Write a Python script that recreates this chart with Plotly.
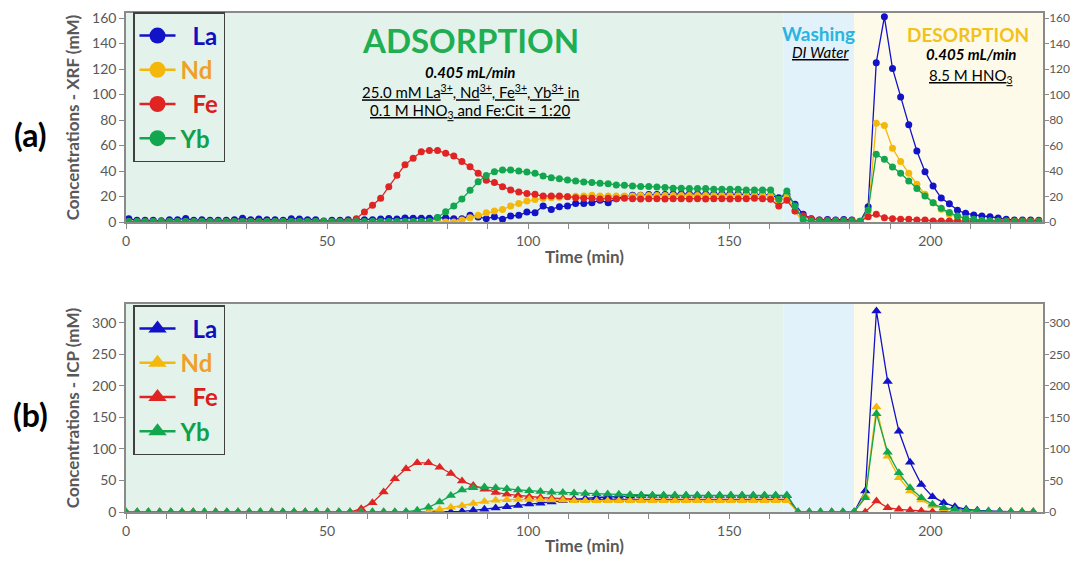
import plotly.graph_objects as go

# ---------------- data ----------------
SERIES = ["La", "Nd", "Fe", "Yb"]

# XRF sampling times (min) – regular ~2.02 min fractions
T_XRF = [round(0.7 + 2.02 * i, 2) for i in range(113)]

LA_XRF = [2.6, 1.3, 1.3, 1.3, 1.0, 1.8, 1.8, 2.8, 1.3, 1.8,
          1.3, 1.3, 1.3, 1.8, 2.9, 1.8, 2.3, 1.8, 1.8, 1.3,
          2.6, 2.3, 1.8, 1.8, 0.8, 1.3, 1.3, 1.8, 1.8, 1.8,
          1.8, 2.3, 2.8, 2.3, 3.2, 2.9, 3.0, 3.0, 3.4, 3.4,
          2.6, 2.5, 5.2, 3.9, 2.6, 4.2, 2.1, 4.7, 5.2, 7.8,
          7.3, 12.5, 9.9, 12.0, 12.5, 14.6, 14.6, 15.2, 17.0, 15.2,
          18.3, 20.0, 21.0, 21.0, 21.5, 21.5, 21.5, 22.0, 22.0, 22.0,
          22.0, 22.0, 22.0, 22.0, 22.0, 22.0, 22.0, 21.5, 21.5, 21.0,
          19.0, 21.5, 14.0, 6.0, 2.5, 1.6, 2.0, 1.6, 2.0, 1.6,
          0.3, 12.0, 125.0, 161.0, 120.5, 98.0, 76.4, 55.7, 39.5, 28.2,
          18.8, 14.4, 9.2, 6.8, 5.5, 4.7, 4.2, 3.1, 2.1, 1.6,
          1.6, 1.6, 1.3]

ND_XRF = [0.0] * 41 + [
          1.5, 3.4, 5.2, 7.3, 8.6, 9.9, 12.5, 14.6, 16.4,
          17.7, 18.6, 19.1, 19.5, 20.0, 20.2, 20.5, 21.0, 20.5, 20.5,
          20.5, 20.5, 20.5, 20.8, 20.8, 20.8, 20.8, 20.8, 20.8, 20.8,
          20.8, 20.8, 20.8, 20.8, 20.8, 20.8, 20.8, 20.8, 20.8, 20.5,
          16.0, 20.0, 8.6, 0.0, 0.0, 0.0, 0.0, 0.0, 0.0, 0.0,
          0.0, 6.0, 77.4, 75.8, 57.8, 47.4, 38.2, 29.6, 21.7, 15.2,
          10.0, 6.0, 4.0, 2.5, 1.6, 0.5, 0.5, 0.5, 0.5, 0.5,
          0.5, 0.5, 0.5]

FE_XRF = [0.3] * 27 + [0.8,
          2.6, 7.8, 13.1, 18.6, 27.7, 36.6, 45.0, 50.0, 55.2, 56.2,
          56.2, 53.9, 51.8, 47.4, 43.4, 38.2, 32.7, 30.9, 27.7, 25.1,
          23.5, 22.3, 21.7, 20.4, 20.4, 20.4, 19.9, 19.1, 18.6, 18.6,
          18.0, 18.6, 18.3, 18.6, 18.3, 18.0, 18.3, 18.3, 18.0, 18.3,
          18.3, 18.0, 18.3, 18.0, 18.3, 18.3, 18.0, 18.3, 18.3, 18.6,
          18.3, 17.8,
          12.5, 17.0, 8.6, 5.0, 2.6, 1.6, 1.3, 1.3, 1.3, 1.3,
          0.5, 4.2, 6.0, 3.4, 2.6, 2.1, 2.1, 1.6, 1.6, 0.8,
          0.8, 0.8, 0.8, 0.8, 0.8, 0.8, 0.8, 0.8, 0.8, 0.8,
          0.8, 0.8, 0.8]

YB_XRF = [0.3] * 37 + [0.5,
          3.5, 8.0, 12.5, 18.0, 25.0, 31.5, 36.5, 39.5, 40.8, 40.8,
          40.0, 39.2, 38.2, 36.1, 34.8, 34.0, 33.0, 32.2, 31.4,
          30.9, 30.4, 30.1, 29.1, 28.8, 28.3, 27.8, 27.8, 27.5, 27.0,
          26.5, 26.5, 26.2, 26.2, 26.2, 25.7, 25.7, 25.7, 25.7, 25.2,
          25.2, 25.2, 25.1,
          17.8, 24.3, 12.5, 2.1, 0.5, 0.5, 0.5, 0.5, 0.5, 0.5,
          0.5, 9.4, 53.1, 49.2, 43.2, 38.2, 32.2, 26.2, 20.4, 15.2,
          10.7, 7.4, 4.7, 2.9, 2.1, 1.3, 0.8, 0.5, 0.3, 0.3,
          0.3, 0.3, 0.3]

# ICP sampling times (min) – regular ~2.785 min fractions
T_ICP = [round(2.785 * k, 2) for k in range(82)]

LA_ICP = [0.0] * 29 + [
          0.0, 1.0, 2.6, 4.2, 6.3, 8.5, 10.5, 12.5, 14.0, 16.0,
          18.0, 20.0, 21.5, 23.0, 24.0, 25.0, 25.5, 26.0, 26.0, 26.0] + [26.0] * 11 + [0.0] * 6 + [
          33.2, 319.0, 207.0, 128.0, 79.0, 43.8, 24.3, 14.8, 8.5, 4.3,
          2.7, 1.5, 1.0, 0.5, 0.3, 0.2]

ND_ICP = [0.0] * 28 + [
          4.0, 7.5, 10.0, 13.5, 16.5, 18.5, 19.5, 20.0, 20.0, 19.5,
          19.0, 18.5, 18.0, 18.0, 18.0, 18.0, 18.0, 18.0, 18.0, 18.0] + [18.0] * 12 + [0.0] * 6 + [
          25.3, 166.5, 88.5, 54.3, 33.2, 19.0, 9.5, 5.3, 2.1, 1.0,
          0.5, 0.3, 0.0, 0.0, 0.0, 0.0]

FE_ICP = [0.0] * 21 + [
          5.3, 14.8, 31.6, 52.7, 68.6, 78.0, 78.0, 71.0, 61.1, 49.0,
          42.2, 36.0, 31.0, 28.0, 26.0, 24.0, 23.0, 22.0, 21.0, 20.5] + [20.0] * 19 + [0.0] * 7 + [
          17.4, 6.9, 4.3, 2.6, 1.6, 0.5, 0.3, 0.2, 0.1] + [0.0] * 6

YB_ICP = [0.0] * 25 + [
          0.5, 2.6, 7.4, 15.8, 26.0, 34.8, 38.5, 39.5, 38.5, 37.0,
          35.0, 33.7, 32.6, 31.5, 31.0, 30.0, 29.5, 29.0, 28.5, 28.0,
          27.5, 27.0] + [26.5] * 13 + [0.0] * 6 + [
          22.7, 156.0, 94.8, 62.2, 38.5, 22.7, 12.1, 6.9, 4.3, 2.6,
          1.6, 1.0, 0.5, 0.3, 0.2, 0.0]

# stage boundaries (min)
STAGES = [("Adsorption", 0, 163.5), ("Washing", 163.5, 181.0), ("Desorption", 181.0, 228.0)]

# ---------------- style ----------------
OX, OY = 8, 8                      # page body margin around the figure
W, H = 1080 - 2 * OX, 564 - 2 * OY
ML = 126 - OX
MR = W - (1043 - OX)
PW = W - ML - MR
FONT = "Lato"
GRAY = "#595959"
AXIS = "#8a8a8a"

LINE_COL = {"La": "#1212C8", "Nd": "#F4B80C", "Fe": "#E02424", "Yb": "#12A64E"}
TEXT_COL = {"La": "#1010C0", "Nd": "#F0A02A", "Fe": "#D81E1E", "Yb": "#10A048"}
PAD = {"La": "\u2002", "Nd": "", "Fe": "\u2002", "Yb": ""}
STAGE_COL = {"Adsorption": "#E3F3EC", "Washing": "#E1F2FA", "Desorption": "#FEFAEA"}


def px(x):
    return (x - OX - ML) / PW


def py(y):
    return 1 - (y - OY) / H


fig = go.Figure()

xrf = {"La": LA_XRF, "Nd": ND_XRF, "Fe": FE_XRF, "Yb": YB_XRF}
icp = {"La": LA_ICP, "Nd": ND_ICP, "Fe": FE_ICP, "Yb": YB_ICP}

for s in ["La", "Nd", "Fe", "Yb"]:
    fig.add_trace(go.Scatter(
        x=T_XRF, y=xrf[s], mode="lines+markers", xaxis="x", yaxis="y",
        line=dict(color=LINE_COL[s], width=1.3),
        marker=dict(symbol="circle", size=7, color=LINE_COL[s]),
        showlegend=False, name=s))

for s in ["Fe", "La", "Nd", "Yb"]:
    fig.add_trace(go.Scatter(
        x=T_ICP, y=icp[s], mode="lines+markers", xaxis="x2", yaxis="y2",
        line=dict(color=LINE_COL[s], width=1.3),
        marker=dict(symbol="triangle-up", size=9, color=LINE_COL[s]),
        showlegend=False, name=s))

# legend entries (large symbols like the original)
for s in SERIES:
    fig.add_trace(go.Scatter(
        x=[None], y=[None], mode="lines+markers", xaxis="x", yaxis="y",
        line=dict(color=LINE_COL[s], width=2.5),
        marker=dict(symbol="circle", size=16, color=LINE_COL[s]),
        name=f"<span style='color:{TEXT_COL[s]}'>{PAD[s]}{s}</span>",
        legend="legend", legendgroup="a" + s))
    fig.add_trace(go.Scatter(
        x=[None], y=[None], mode="lines+markers", xaxis="x2", yaxis="y2",
        line=dict(color=LINE_COL[s], width=2.5),
        marker=dict(symbol="triangle-up", size=16, color=LINE_COL[s]),
        name=f"<span style='color:{TEXT_COL[s]}'>{PAD[s]}{s}</span>",
        legend="legend2", legendgroup="b" + s))

# stage background shading
shapes = []
for name, x0, x1 in STAGES:
    for yref in ["y domain", "y2 domain"]:
        xr = "x" if yref == "y domain" else "x2"
        shapes.append(dict(type="rect", xref=xr, yref=yref, x0=x0, x1=x1, y0=0, y1=1,
                           fillcolor=STAGE_COL[name], line=dict(width=0), layer="below"))

tickfont = dict(family=FONT, size=14, color=GRAY)
rtickfont = dict(family=FONT, size=12, color=GRAY)
titlefont = dict(family=FONT, size=17, color=GRAY, weight="bold")

xcommon = dict(range=[0, 228], dtick=50, tick0=0, ticks="outside", ticklen=5, tickcolor=AXIS,
               showline=True, linecolor=AXIS, linewidth=1.5, mirror=True, showgrid=False,
               zeroline=False, tickfont=tickfont, automargin=False,
               minor=dict(dtick=10, ticks="outside", ticklen=5, tickcolor=AXIS, showgrid=False),
               title=dict(text="Time (min)", font=titlefont, standoff=4))

dom_a = [py(222), py(13)]
dom_b = [py(512), py(304)]

ycommon = dict(ticks="outside", tickcolor=AXIS, showline=True, linecolor=AXIS,
               linewidth=1.5, showgrid=False, zeroline=False, automargin=False)

legend_common = dict(xanchor="left", yanchor="top", bgcolor="rgba(0,0,0,0)",
                     bordercolor="#404040", borderwidth=1.5,
                     font=dict(family=FONT, size=24, weight="bold"), itemwidth=36,
                     tracegroupgap=0, itemsizing="trace")

layout = dict(
    width=W, height=H, paper_bgcolor="white", plot_bgcolor="white",
    margin=dict(l=ML, r=MR, t=0, b=0, autoexpand=False),
    font=dict(family=FONT, color=GRAY),
    xaxis=dict(domain=[0, 1], anchor="y", **xcommon),
    xaxis2=dict(domain=[0, 1], anchor="y2", **xcommon),
    yaxis=dict(domain=dom_a, anchor="x", range=[0, 164], dtick=20, ticklen=5, tickfont=tickfont,
               title=dict(text="Concentrations - XRF (mM)", font=titlefont, standoff=8), **ycommon),
    yaxis3=dict(overlaying="y", side="right", anchor="x", range=[0, 164], dtick=20,
                ticklen=4, tickfont=rtickfont, ticklabelstandoff=-2, **ycommon),
    yaxis2=dict(domain=dom_b, anchor="x2", range=[0, 330], dtick=50, ticklen=5, tickfont=tickfont,
                title=dict(text="Concentrations - ICP (mM)", font=titlefont, standoff=8), **ycommon),
    yaxis4=dict(overlaying="y2", side="right", anchor="x2", range=[0, 330], dtick=50,
                ticklen=4, tickfont=rtickfont, ticklabelstandoff=-2, **ycommon),
    shapes=shapes,
    legend=dict(x=px(133), y=py(12), **legend_common),
    legend2=dict(x=px(133), y=py(305), **legend_common),
)
fig.update_layout(**layout)

# dummy traces so the right-hand axes are drawn
fig.add_trace(go.Scatter(x=[None], y=[None], xaxis="x", yaxis="y3", showlegend=False, hoverinfo="skip"))
fig.add_trace(go.Scatter(x=[None], y=[None], xaxis="x2", yaxis="y4", showlegend=False, hoverinfo="skip"))

ann = []


def note(x, y, text, size, color="black", bold=False, italic=False):
    t = text
    if italic:
        t = f"<i>{t}</i>"
    if bold:
        t = f"<b>{t}</b>"
    ann.append(dict(xref="paper", yref="paper", x=px(x), y=py(y), text=t, showarrow=False,
                    xanchor="center", yanchor="middle",
                    font=dict(family=FONT, size=size, color=color)))


note(30, 134, "(a)", 32, "black", bold=True)
note(30, 414, "(b)", 32, "black", bold=True)
note(470, 40, "ADSORPTION", 33, "#1FAE52", bold=True)
note(470, 72, "0.405 mL/min", 15, "black", bold=True, italic=True)
note(470, 91, "<u>25.0 mM La<sup>3+</sup>, Nd<sup>3+</sup>, Fe<sup>3+</sup>, Yb<sup>3+</sup> in</u>", 15)
note(470, 111, "<u>0.1 M HNO<sub>3</sub> and Fe:Cit = 1:20</u>", 15)
note(818, 33, "Washing", 19, "#2AB4E0", bold=True)
note(820, 52, "<u>DI Water</u>", 15, "black", italic=True)
note(968, 34, "DESORPTION", 19, "#F2C21A", bold=True)
note(971, 54, "0.405 mL/min", 15, "black", bold=True, italic=True)
note(971, 76, "<u>8.5 M HNO<sub>3</sub></u>", 15)

fig.update_layout(annotations=ann)

fig.write_html("out.html")
